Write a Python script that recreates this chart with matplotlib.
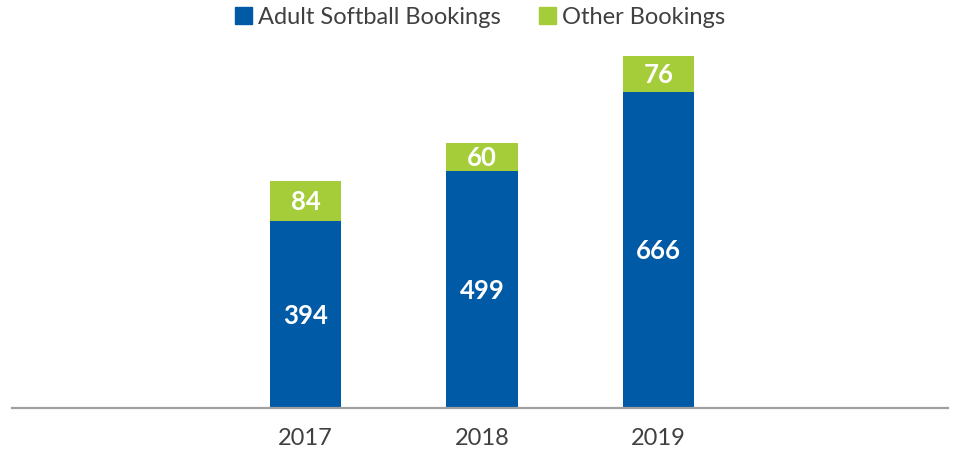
import numpy as np
import matplotlib.pyplot as plt
import matplotlib.patches as mpatches

plt.rcParams['font.family'] = ['Lato', 'DejaVu Sans']

# data
years = ['2017', '2018', '2019']
softball = [394, 499, 666]
other = [84, 60, 76]

blue = '#005AA5'
green = '#A5CD39'
text_grey = '#404040'

fig = plt.figure(figsize=(9.56, 4.56), dpi=100)
# axes spans pixel x 12..948, y 40..408
ax = fig.add_axes([12 / 956, 47 / 456, 936 / 956, 368 / 456])

x = np.arange(len(years))
width = 0.405
ax.bar(x, softball, width, color=blue, zorder=2)
ax.bar(x, other, width, bottom=softball, color=green, zorder=2)

for i in range(len(years)):
    ax.text(x[i], softball[i] / 2, str(softball[i]), ha='center', va='center',
            color='white', fontsize=18.5, fontweight='bold')
    ax.text(x[i], softball[i] + other[i] / 2, str(other[i]), ha='center', va='center',
            color='white', fontsize=18.5, fontweight='bold')

ax.set_xlim(-1.663, 3.64)
ax.set_ylim(0, 776)
ax.set_xticks(x)
ax.set_xticklabels(years, fontsize=17, color=text_grey)
ax.tick_params(axis='x', length=0, pad=14)
ax.set_yticks([])
for s in ['top', 'left', 'right']:
    ax.spines[s].set_visible(False)
ax.spines['bottom'].set_color('#A0A0A0')
ax.spines['bottom'].set_linewidth(1.6)
ax.spines['bottom'].set_zorder(3)

handles = [mpatches.Patch(color=blue, label='Adult Softball Bookings'),
           mpatches.Patch(color=green, label='Other Bookings')]
leg = fig.legend(handles=handles, loc='center', bbox_to_anchor=(480 / 956, 1 - 18 / 456),
                 ncol=2, frameon=False, fontsize=17, handlelength=0.75, handleheight=0.75,
                 handletextpad=0.25, columnspacing=1.6)
for t in leg.get_texts():
    t.set_color(text_grey)

plt.savefig('out.png', dpi=100)
